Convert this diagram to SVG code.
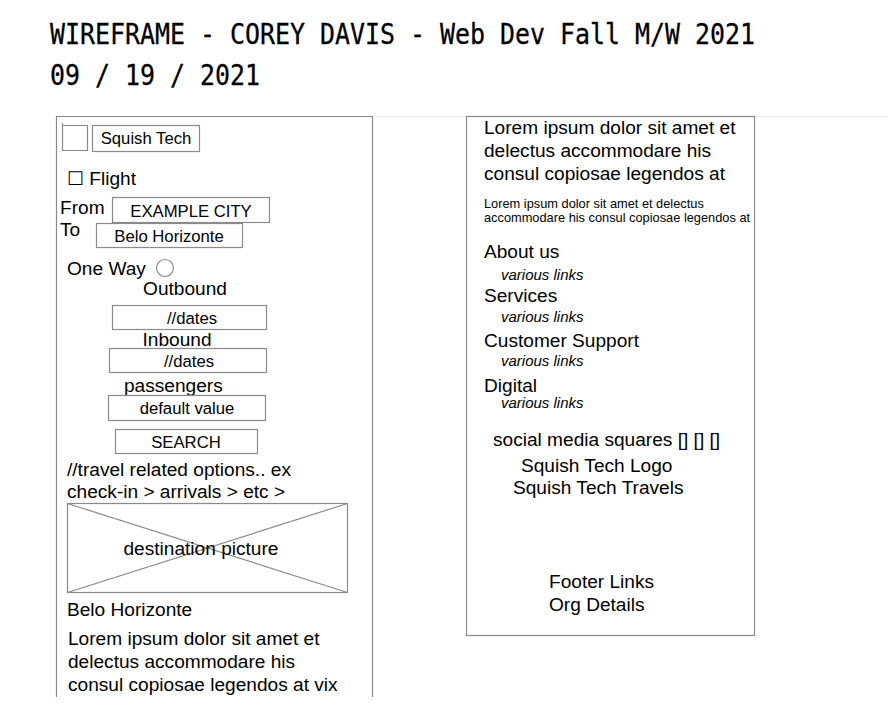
<svg xmlns="http://www.w3.org/2000/svg" width="888" height="719" viewBox="0 0 888 719">
<style>
.t{font-family:"Liberation Sans",Arial,sans-serif;fill:#000}
.s18{font-size:19.1px}
.s16{font-size:16.7px}
.s11{font-size:12.8px}
.it{font-size:15px;font-style:italic}
.title{font-family:"DejaVu Sans Mono",monospace;font-size:29px;fill:#000;stroke:#000;stroke-width:0.3}
.box{fill:none;stroke:#8a8a8a;stroke-width:1.2}
.faint{stroke:#e6e6e6;stroke-width:1.2}
</style>
<rect width="888" height="719" fill="#fff"/>
<g id="title">
<text class="title" x="50" y="44" textLength="705" lengthAdjust="spacingAndGlyphs">WIREFRAME - COREY DAVIS - Web Dev Fall M/W 2021</text>
<text class="title" x="50" y="85" textLength="210" lengthAdjust="spacingAndGlyphs">09 / 19 / 2021</text>
</g>
<g id="guides">
<line class="faint" x1="372" y1="116.5" x2="466" y2="116.5"/>
<line class="faint" x1="755" y1="116.5" x2="888" y2="116.5"/>
</g>
<g id="left-panel">
<path class="box" d="M56.5,697 V116.5 H372.5 V697"/>
<g id="logo">
<path class="box" d="M62.5,123 V150.5 H87.5 V125.5 H62.5"/>
<rect class="box" x="92.5" y="125.5" width="107" height="26"/>
<text class="t s16" x="146" y="144" text-anchor="middle">Squish Tech</text>
</g>
<g id="flight">
<text class="t s18" x="67" y="185">☐ Flight</text>
</g>
<g id="from">
<text class="t s18" x="60" y="214">From</text>
<rect class="box" x="112.5" y="197.5" width="157" height="25"/>
<text class="t s16" x="191" y="217" text-anchor="middle">EXAMPLE CITY</text>
</g>
<g id="to">
<text class="t s18" x="60" y="236">To</text>
<rect class="box" x="96.5" y="223.5" width="146" height="24"/>
<text class="t s16" x="169" y="242" text-anchor="middle">Belo Horizonte</text>
</g>
<g id="oneway">
<text class="t s18" x="67" y="275">One Way</text>
<circle class="box" cx="165" cy="268" r="8.5"/>
</g>
<g id="outbound">
<text class="t s18" x="185" y="295" text-anchor="middle">Outbound</text>
<rect class="box" x="112.5" y="305.5" width="154" height="24"/>
<text class="t s16" x="192" y="324" text-anchor="middle">//dates</text>
</g>
<g id="inbound">
<text class="t s18" x="177" y="346" text-anchor="middle">Inbound</text>
<rect class="box" x="109.5" y="348.5" width="157" height="24"/>
<text class="t s16" x="189" y="367" text-anchor="middle">//dates</text>
</g>
<g id="passengers">
<text class="t s18" x="124" y="392">passengers</text>
<rect class="box" x="108.5" y="395.5" width="157" height="25"/>
<text class="t s16" x="187" y="414" text-anchor="middle">default value</text>
</g>
<g id="search">
<rect class="box" x="115.5" y="429.5" width="142" height="24"/>
<text class="t s16" x="186" y="448" text-anchor="middle">SEARCH</text>
</g>
<g id="options">
<text class="t s18" x="67" y="476">//travel related options.. ex</text>
<text class="t s18" x="67" y="498">check-in &gt; arrivals &gt; etc &gt;</text>
</g>
<g id="picture">
<rect class="box" x="67.5" y="503.5" width="280" height="89"/>
<line class="box" x1="67.5" y1="503.5" x2="347.5" y2="592.5"/>
<line class="box" x1="67.5" y1="592.5" x2="347.5" y2="503.5"/>
<text class="t s18" x="201" y="555" text-anchor="middle">destination picture</text>
</g>
<g id="city">
<text class="t s18" x="67" y="616">Belo Horizonte</text>
</g>
<g id="left-lorem">
<text class="t s18" x="68" y="645">Lorem ipsum dolor sit amet et</text>
<text class="t s18" x="68" y="668">delectus accommodare his</text>
<text class="t s18" x="68" y="691">consul copiosae legendos at vix</text>
</g>
</g>
<g id="right-panel">
<rect class="box" x="466.5" y="116.5" width="288" height="519"/>
<g id="right-lorem">
<text class="t s18" x="484" y="134">Lorem ipsum dolor sit amet et</text>
<text class="t s18" x="484" y="157">delectus accommodare his</text>
<text class="t s18" x="484" y="180">consul copiosae legendos at</text>
<text class="t s11" x="484" y="208">Lorem ipsum dolor sit amet et delectus</text>
<text class="t s11" x="484" y="222">accommodare his consul copiosae legendos at</text>
</g>
<g id="links">
<text class="t s18" x="484" y="258">About us</text>
<text class="t it" x="501" y="280">various links</text>
<text class="t s18" x="484" y="302">Services</text>
<text class="t it" x="501" y="322">various links</text>
<text class="t s18" x="484" y="347">Customer Support</text>
<text class="t it" x="501" y="366">various links</text>
<text class="t s18" x="484" y="392">Digital</text>
<text class="t it" x="501" y="408">various links</text>
</g>
<g id="social">
<text class="t s18" x="493" y="446">social media squares [] [] []</text>
<text class="t s18" x="521" y="472">Squish Tech Logo</text>
<text class="t s18" x="513" y="494">Squish Tech Travels</text>
</g>
<g id="footer">
<text class="t s18" x="549" y="588">Footer Links</text>
<text class="t s18" x="549" y="611">Org Details</text>
</g>
</g>
</svg>
